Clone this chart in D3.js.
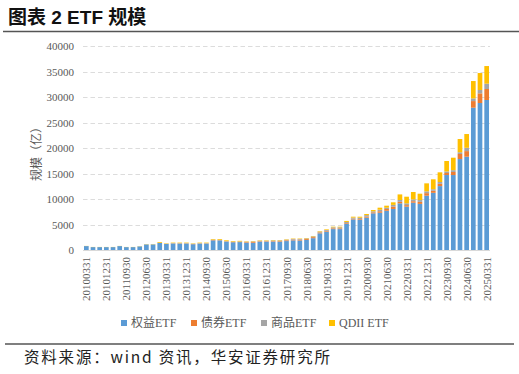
<!DOCTYPE html>
<html>
<head>
<meta charset="utf-8">
<script src="https://cdn.jsdelivr.net/npm/d3@7"></script>
<style>
  body { margin: 0; background: #fff; }
  svg { display: block; }
</style>
</head>
<body>
<svg width="519" height="374"></svg>
<script>
// quarter ends, 2010Q1 .. 2025Q1
const quarters = [
  "20100331","20100630","20100930","20101231","20110331","20110630","20110930","20111231",
  "20120331","20120630","20120930","20121231","20130331","20130630","20130930","20131231",
  "20140331","20140630","20140930","20141231","20150331","20150630","20150930","20151231",
  "20160331","20160630","20160930","20161231","20170331","20170630","20170930","20171231",
  "20180331","20180630","20180930","20181231","20190331","20190630","20190930","20191231",
  "20200331","20200630","20200930","20201231","20210331","20210630","20210930","20211231",
  "20220331","20220630","20220930","20221231","20230331","20230630","20230930","20231231",
  "20240331","20240630","20240930","20241231","20250331"
];

// 亿元
const equity = [770,570,570,570,570,770,570,570,710,1100,1100,1380,1200,1280,1260,1260,
  1130,1250,1250,1890,1880,1640,1520,1550,1420,1420,1600,1600,1640,1620,1750,1890,
  1860,1960,2320,3270,3600,4100,4100,5100,6000,5880,6340,7190,7300,7690,8050,9150,
  8500,9270,9040,10650,11210,12530,14700,14700,17830,18290,27900,28820,29410];
const bond = [0,0,0,0,0,0,0,0,0,0,0,20,20,30,40,40,
  40,40,40,80,60,60,60,70,120,150,100,100,100,120,150,150,
  180,180,200,180,150,150,150,150,150,150,200,200,300,350,450,300,
  300,300,400,500,400,450,400,600,1000,1100,1300,1900,2160];
const commodity = [0,0,0,0,0,0,0,0,0,0,0,0,0,40,50,50,
  50,60,60,60,60,50,50,60,80,100,120,120,130,130,120,130,
  130,130,150,150,180,200,200,250,200,300,300,200,300,250,350,350,
  350,350,350,350,300,350,300,350,330,650,530,650,1040];
const qdii = [30,30,30,30,30,30,30,30,40,50,50,150,80,100,100,100,
  80,100,100,120,150,150,120,120,80,80,80,80,80,80,80,80,
  80,80,80,100,120,120,120,200,180,200,220,250,400,400,500,1100,
  1300,1450,1250,1570,1950,1900,2050,2450,2600,2700,3400,3330,3460];

const seriesNames = ["权益ETF", "债券ETF", "商品ETF", "QDII ETF"];
const colors = ["#5B9BD5", "#ED7D31", "#A5A5A5", "#FFC000"];
const yTicks = [0,5000,10000,15000,20000,25000,30000,35000,40000];

const rows = quarters.map((q, i) => ({
  q: q, e: equity[i], b: bond[i], c: commodity[i], d: qdii[i]
}));

const svg = d3.select("svg");
const serif = "'Liberation Serif','Times New Roman',serif";
const cjk = "'Liberation Sans','Noto Sans CJK SC',sans-serif";

// title + rules
svg.append("text")
  .attr("x", 8).attr("y", 24)
  .attr("font-family", cjk).attr("font-weight", "bold")
  .attr("font-size", 19).attr("fill", "#111")
  .text("图表 2 ETF 规模");
svg.append("line")
  .attr("x1", 3).attr("x2", 519).attr("y1", 31.5).attr("y2", 31.5)
  .attr("stroke", "#555").attr("stroke-width", 1.5);
svg.append("line")
  .attr("x1", 5).attr("x2", 514).attr("y1", 344).attr("y2", 344)
  .attr("stroke", "#555").attr("stroke-width", 1.5);
svg.append("text")
  .attr("x", 24).attr("y", 363)
  .attr("font-family", "'Noto Sans CJK SC',sans-serif")
  .attr("font-size", 15.5).attr("fill", "#222")
  .attr("letter-spacing", 1.8)
  .text("资料来源：wind 资讯，华安证券研究所");

const x = d3.scaleBand().domain(quarters).range([83, 490])
  .paddingInner(0.3).paddingOuter(0.15);
const y = d3.scaleLinear().domain([0, 40000]).range([250, 46]);

// grid
svg.append("g").selectAll("line")
  .data(yTicks.filter(t => t > 0)).enter()
  .append("line")
  .attr("x1", 83).attr("x2", 490)
  .attr("y1", d => Math.round(y(d)) + 0.5).attr("y2", d => Math.round(y(d)) + 0.5)
  .attr("stroke", "#dcdcdc").attr("stroke-width", 1.2)
  .attr("stroke-dasharray", "4.5,3");

// y labels
svg.append("g").selectAll("text")
  .data(yTicks).enter()
  .append("text")
  .attr("x", 74).attr("y", d => y(d) + 4)
  .attr("text-anchor", "end")
  .attr("font-family", serif).attr("font-size", 11).attr("fill", "#595959")
  .text(d => d);

svg.append("text")
  .attr("transform", "translate(41,151) rotate(-90)")
  .attr("text-anchor", "middle")
  .attr("font-family", "'Noto Sans CJK SC',sans-serif")
  .attr("font-size", 12).attr("fill", "#595959")
  .text("规模（亿）");

// stacked bars
const stack = d3.stack().keys(["e", "b", "c", "d"]);
const layers = stack(rows);
svg.append("g").selectAll("g")
  .data(layers).enter()
  .append("g")
  .attr("fill", (d, i) => colors[i])
  .selectAll("rect")
  .data(d => d).enter()
  .append("rect")
  .attr("x", d => x(d.data.q))
  .attr("width", x.bandwidth())
  .attr("y", d => y(d[1]))
  .attr("height", d => Math.max(0, y(d[0]) - y(d[1])));

// x axis line
svg.append("line")
  .attr("x1", 83).attr("x2", 490).attr("y1", 250.5).attr("y2", 250.5)
  .attr("stroke", "#d9d9d9").attr("stroke-width", 1);

// x labels every 3rd quarter
svg.append("g").selectAll("text")
  .data(quarters.filter((q, i) => i % 3 === 0)).enter()
  .append("text")
  .attr("transform", d => "translate(" + (x(d) + x.bandwidth() / 2 + 4) + ",257) rotate(-90)")
  .attr("text-anchor", "end")
  .attr("font-family", serif).attr("font-size", 11).attr("fill", "#595959")
  .text(d => d);

// legend
const legendX = [121, 191, 261, 329];
const lg = svg.append("g").selectAll("g")
  .data(seriesNames).enter()
  .append("g")
  .attr("transform", (d, i) => "translate(" + legendX[i] + ",320)");
lg.append("rect").attr("width", 6).attr("height", 6).attr("fill", (d, i) => colors[i]);
lg.append("text")
  .attr("x", 10).attr("y", 7)
  .attr("font-family", "'Liberation Serif','Noto Sans CJK SC',serif")
  .attr("font-size", 12).attr("fill", "#595959")
  .text(d => d);
</script>
</body>
</html>
